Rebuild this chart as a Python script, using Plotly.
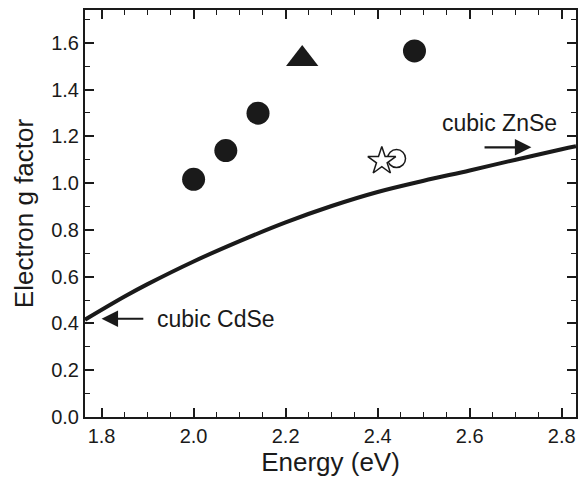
import plotly.graph_objects as go

# Data
circle_x = [2.00, 2.07, 2.14, 2.48]
circle_y = [1.016, 1.139, 1.299, 1.565]
triangle_x = [2.236]
triangle_y = [1.53]
star_x = [2.409]
star_y = [1.094]
open_circle_x = [2.441]
open_circle_y = [1.105]
curve_x = [1.764, 1.85, 1.90, 2.00, 2.10, 2.20, 2.30, 2.40, 2.50, 2.60, 2.70, 2.80, 2.831]
curve_y = [0.416, 0.515, 0.568, 0.665, 0.752, 0.832, 0.902, 0.962, 1.010, 1.054, 1.100, 1.145, 1.158]

x_ticks = [1.8, 2.0, 2.2, 2.4, 2.6, 2.8]
y_ticks = [0.0, 0.2, 0.4, 0.6, 0.8, 1.0, 1.2, 1.4, 1.6]

ink = "#1a1a1a"
font_family = "Liberation Sans, Arial"
fig = go.Figure()
fig.add_trace(go.Scatter(x=curve_x, y=curve_y, mode="lines", line=dict(color=ink, width=4, shape="spline", smoothing=1.0), showlegend=False))
fig.add_trace(go.Scatter(x=circle_x, y=circle_y, mode="markers", marker=dict(symbol="circle", size=23, color=ink, line=dict(width=0)), showlegend=False))
fig.add_trace(go.Scatter(x=triangle_x, y=triangle_y, mode="markers", marker=dict(symbol="triangle-up", size=28, color=ink, line=dict(width=0)), showlegend=False))
fig.add_trace(go.Scatter(x=open_circle_x, y=open_circle_y, mode="markers", marker=dict(symbol="circle-open", size=18, color=ink, line=dict(width=1.5)), showlegend=False))
fig.add_trace(go.Scatter(x=star_x, y=star_y, mode="markers", marker=dict(symbol="star", size=21, color="white", line=dict(width=1.5, color=ink)), showlegend=False))

axis_common = dict(
    showline=True, linecolor=ink, linewidth=2, mirror="ticks",
    ticks="inside", ticklen=9, tickwidth=1.5, tickcolor=ink,
    showgrid=False, zeroline=False,
    tickfont=dict(family=font_family, size=20, color=ink),
)
fig.update_xaxes(range=[1.764, 2.831], tickvals=x_ticks, ticktext=[f"{v:.1f}" for v in x_ticks],
                 minor=dict(dtick=0.05, tick0=1.8, ticks="inside", ticklen=5, tickwidth=1.2, tickcolor=ink),
                 title=dict(text="Energy (eV)", font=dict(family=font_family, size=26, color=ink), standoff=4),
                 **axis_common)
fig.update_yaxes(range=[0, 1.74], tickvals=y_ticks, ticktext=[f"{v:.1f}" for v in y_ticks],
                 minor=dict(dtick=0.1, tick0=0, ticks="inside", ticklen=5, tickwidth=1.2, tickcolor=ink),
                 title=dict(text="Electron g factor", font=dict(family=font_family, size=26, color=ink), standoff=10),
                 **axis_common)

fig.add_annotation(x=1.8, y=0.42, ax=1.894, ay=0.42, xref="x", yref="y", axref="x", ayref="y",
                   showarrow=True, arrowhead=2, arrowsize=1.5, arrowwidth=2.2, arrowcolor=ink, text="")
fig.add_annotation(x=1.917, y=0.42, text="cubic CdSe", showarrow=False, xanchor="left", yanchor="middle",
                   font=dict(family=font_family, size=23, color=ink))
fig.add_annotation(x=2.734, y=1.153, ax=2.629, ay=1.153, xref="x", yref="y", axref="x", ayref="y",
                   showarrow=True, arrowhead=2, arrowsize=1.5, arrowwidth=2.2, arrowcolor=ink, text="")
fig.add_annotation(x=2.664, y=1.255, text="cubic ZnSe", showarrow=False, xanchor="center", yanchor="middle",
                   font=dict(family=font_family, size=23, color=ink))

fig.update_layout(width=587, height=479, margin=dict(l=85, r=11, t=8, b=62),
                  plot_bgcolor="white", paper_bgcolor="white")
fig.write_html("out.html")
